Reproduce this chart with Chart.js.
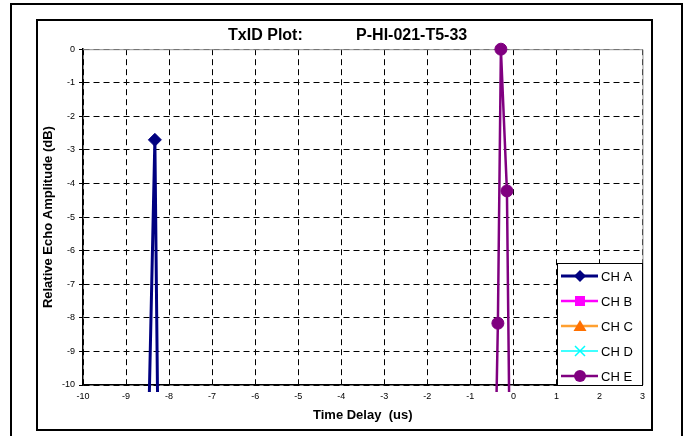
<!DOCTYPE html>
<html>
<head>
<meta charset="utf-8">
<script src="https://cdn.jsdelivr.net/npm/chart.js@4/dist/chart.umd.min.js"></script>
<style>
  html, body { margin: 0; padding: 0; background: #ffffff; width: 688px; height: 436px; overflow: hidden; }
  #outer { position: absolute; left: 10px; top: 3px; width: 673px; height: 450px; border: 2px solid #000; box-sizing: border-box; }
  #inner { position: absolute; left: 36px; top: 19px; width: 617px; height: 412px; border: 2px solid #000; box-sizing: border-box; background: #fff; }
  #txChart { position: absolute; left: 38px; top: 21px; }
</style>
</head>
<body>
<div id="outer"></div>
<div id="inner"></div>
<canvas id="txChart" width="613" height="408"></canvas>
<script>
const FONT = 'Arial, "Liberation Sans", sans-serif';

// axis ranges (us / dB)
const xMin = -10, xMax = 3;
const yMin = -10, yMax = 0;

// echo samples per channel, points below -10 dB run off the plot
const chAx = [-8.54, -8.33, -8.23];
const chAy = [-15, -2.7, -15];

const chBx = [];
const chBy = [];

const chCx = [];
const chCy = [];

const chDx = [];
const chDy = [];

const chEx = [-0.46, -0.36, -0.29, -0.15, -0.06];
const chEy = [-15, -8.16, 0, -4.22, -15];

const channelNames = ['CH A', 'CH B', 'CH C', 'CH D', 'CH E'];

const pts = (xs, ys) => xs.map((x, i) => ({x: x, y: ys[i]}));

const series = [
    {name: channelNames[0], data: pts(chAx, chAy), line: '#000080', fill: '#000080', style: 'rectRot', r: 6.5, w: 3},
    {name: channelNames[1], data: pts(chBx, chBy), line: '#ff00ff', fill: '#ff00ff', style: 'rect', r: 6, w: 2.5},
    {name: channelNames[2], data: pts(chCx, chCy), line: '#ffa030', fill: '#ff7000', style: 'triangle', r: 6, w: 2.5},
    {name: channelNames[3], data: pts(chDx, chDy), line: '#00ffff', fill: '#00ffff', style: 'crossRot', r: 6, w: 1.5},
    {name: channelNames[4], data: pts(chEx, chEy), line: '#800080', fill: '#800080', style: 'circle', r: 6, w: 2.5}
];

// little marker painter for the legend
const drawMarker = (ctx, s, x, y) => {
    ctx.save();
    ctx.fillStyle = s.fill;
    ctx.strokeStyle = s.fill;
    ctx.lineWidth = 1.5;
    ctx.beginPath();
    if (s.style === 'rectRot') {
        ctx.moveTo(x, y - 6); ctx.lineTo(x + 6, y); ctx.lineTo(x, y + 6); ctx.lineTo(x - 6, y);
        ctx.closePath(); ctx.fill();
    } else if (s.style === 'rect') {
        ctx.rect(x - 5, y - 5, 10, 10); ctx.fill();
    } else if (s.style === 'triangle') {
        ctx.moveTo(x, y - 6); ctx.lineTo(x + 6.5, y + 5); ctx.lineTo(x - 6.5, y + 5);
        ctx.closePath(); ctx.fill();
    } else if (s.style === 'crossRot') {
        ctx.moveTo(x - 5, y - 5); ctx.lineTo(x + 5, y + 5);
        ctx.moveTo(x + 5, y - 5); ctx.lineTo(x - 5, y + 5);
        ctx.stroke();
    } else {
        ctx.arc(x, y, 6, 0, Math.PI * 2); ctx.fill();
    }
    ctx.restore();
};

const plotFrame = {
    id: 'plotFrame',
    beforeDatasetsDraw(chart) {
        // grey top/right edge of the plot area
        const {ctx, chartArea} = chart;
        ctx.save();
        ctx.strokeStyle = '#909090';
        ctx.lineWidth = 1;
        ctx.beginPath();
        ctx.moveTo(chartArea.left, chartArea.top + 0.5);
        ctx.lineTo(chartArea.right + 0.5, chartArea.top + 0.5);
        ctx.lineTo(chartArea.right + 0.5, chartArea.bottom);
        ctx.stroke();
        ctx.restore();
    },
    afterDraw(chart) {
        // boxed legend sitting in the bottom right corner of the plot
        const {ctx, chartArea} = chart;
        const bw = 86, bh = 123;
        const left = Math.round(chartArea.right) + 1 - bw;
        const top = Math.round(chartArea.bottom) + 1 - bh;
        ctx.save();
        ctx.fillStyle = '#ffffff';
        ctx.fillRect(left, top, bw, bh);
        ctx.strokeStyle = '#000000';
        ctx.lineWidth = 1;
        ctx.strokeRect(left + 0.5, top + 0.5, bw - 1, bh - 1);
        ctx.font = '13px ' + FONT;
        ctx.textBaseline = 'middle';
        series.forEach((s, i) => {
            const y = top + 13 + i * 25;
            ctx.strokeStyle = s.line;
            ctx.lineWidth = s.w;
            ctx.beginPath();
            ctx.moveTo(left + 4, y);
            ctx.lineTo(left + 41, y);
            ctx.stroke();
            drawMarker(ctx, s, left + 23, y);
            ctx.fillStyle = '#000000';
            ctx.fillText(s.name, left + 44, y + 1);
        });
        ctx.restore();
    }
};

const chart = new Chart(document.getElementById('txChart').getContext('2d'), {
    type: 'scatter',
    data: {
        datasets: series.map(s => ({
            label: s.name,
            data: s.data,
            showLine: true,
            borderColor: s.line,
            borderWidth: s.w,
            pointStyle: s.style,
            pointRadius: s.r,
            pointBackgroundColor: s.fill,
            pointBorderColor: s.fill,
            pointBorderWidth: 1,
            tension: 0,
            clip: {left: 0, top: 10, right: 0, bottom: 7}
        }))
    },
    options: {
        responsive: false,
        devicePixelRatio: 1,
        animation: false,
        events: [],
        layout: {
            padding: {left: 0, right: 7, top: 0, bottom: 0}
        },
        scales: {
            x: {
                type: 'linear',
                min: xMin,
                max: xMax,
                afterFit: (scale) => { scale.height = 44; },
                ticks: {
                    stepSize: 1,
                    color: '#000',
                    padding: 6,
                    maxRotation: 0,
                    font: {family: FONT, size: 9}
                },
                grid: {
                    color: '#000',
                    lineWidth: 1,
                    drawTicks: false
                },
                border: {
                    color: '#000',
                    width: 1.5,
                    dash: [6, 4]
                },
                title: {
                    display: true,
                    text: 'Time Delay  (us)',
                    color: '#000',
                    padding: {top: 0, bottom: 6},
                    font: {family: FONT, size: 13, weight: 'bold'}
                }
            },
            y: {
                type: 'linear',
                min: yMin,
                max: yMax,
                afterFit: (scale) => { scale.width = 45; },
                ticks: {
                    stepSize: 1,
                    color: '#000',
                    padding: 4,
                    font: {family: FONT, size: 9}
                },
                grid: {
                    color: '#000',
                    lineWidth: 1,
                    tickLength: 4,
                    tickColor: '#000'
                },
                border: {
                    color: '#000',
                    width: 1.5,
                    dash: [6, 4]
                },
                title: {
                    display: true,
                    text: 'Relative Echo Amplitude (dB)',
                    color: '#000',
                    padding: {top: 3, bottom: 0},
                    font: {family: FONT, size: 13, weight: 'bold'}
                }
            }
        },
        plugins: {
            legend: {display: false},
            tooltip: {enabled: false},
            title: {
                display: true,
                text: '   TxID Plot:            P-HI-021-T5-33',
                color: '#000',
                padding: {top: 5, bottom: 4},
                font: {family: FONT, size: 16, weight: 'bold'}
            }
        }
    },
    plugins: [plotFrame]
});
</script>
</body>
</html>
